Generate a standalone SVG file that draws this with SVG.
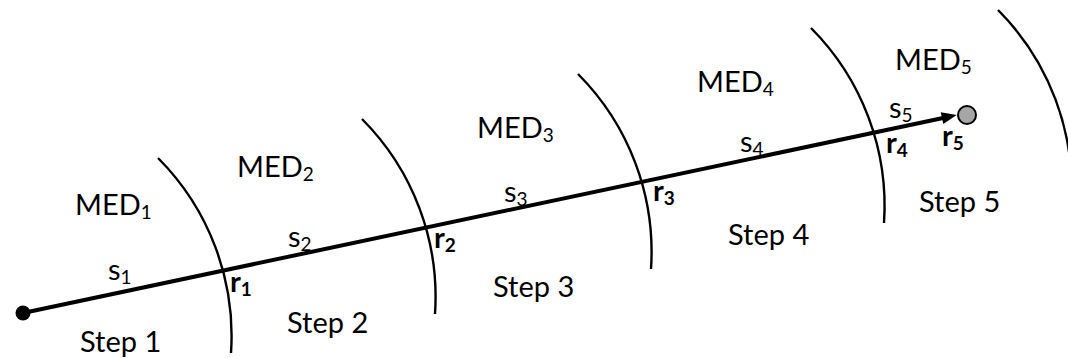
<svg xmlns="http://www.w3.org/2000/svg" width="1068" height="358" viewBox="0 0 1068 358">
  <style>
    .lbl { font-family: Lato, "Open Sans", "Liberation Sans", sans-serif; font-size: 29px; fill: #000; }
    .b { font-weight: bold; }
    .sub { font-size: 19px; }
    .arc { fill: none; stroke: #000; stroke-width: 2.4; }
  </style>
  <defs>
    <path id="arcShape" d="M158,158 A252,252 0 0 1 231,353"/>
    <marker id="arrow" markerUnits="userSpaceOnUse" markerWidth="16" markerHeight="12" refX="1" refY="6" orient="auto" overflow="visible">
      <path d="M0,0 L15,6 L0,12 Z" fill="#000"/>
    </marker>
  </defs>
  <rect width="1068" height="358" fill="#fff"/>
  <g id="boundaries">
    <use id="arc1" href="#arcShape" class="arc"/>
    <use id="arc2" href="#arcShape" class="arc" transform="translate(204,-39)"/>
    <use id="arc3" href="#arcShape" class="arc" transform="translate(420,-84)"/>
    <use id="arc4" href="#arcShape" class="arc" transform="translate(653,-130)"/>
    <use id="arc5" href="#arcShape" class="arc" transform="translate(840,-148)"/>
  </g>
  <g id="connectors">
    <line x1="23" y1="313" x2="943" y2="118" stroke="#000" stroke-width="4" marker-end="url(#arrow)"/>
  </g>
  <g id="start">
    <circle cx="23" cy="313" r="7.5" fill="#000"/>
  </g>
  <g id="end">
    <circle cx="967" cy="115" r="9" fill="#a6a6a6" stroke="#000" stroke-width="2"/>
  </g>
  <g id="media">
    <text class="lbl" x="75" y="215">MED<tspan class="sub" dy="4">1</tspan></text>
    <text class="lbl" x="237" y="177">MED<tspan class="sub" dy="4">2</tspan></text>
    <text class="lbl" x="477" y="138">MED<tspan class="sub" dy="4">3</tspan></text>
    <text class="lbl" x="697" y="92">MED<tspan class="sub" dy="4">4</tspan></text>
    <text class="lbl" x="895" y="70">MED<tspan class="sub" dy="4">5</tspan></text>
  </g>
  <g id="segments">
    <text class="lbl" x="108" y="280">s<tspan class="sub" dy="4">1</tspan></text>
    <text class="lbl" x="288" y="247">s<tspan class="sub" dy="4">2</tspan></text>
    <text class="lbl" x="504" y="202">s<tspan class="sub" dy="4">3</tspan></text>
    <text class="lbl" x="740" y="152">s<tspan class="sub" dy="4">4</tspan></text>
    <text class="lbl" x="889" y="118">s<tspan class="sub" dy="4">5</tspan></text>
  </g>
  <g id="points">
    <text class="lbl b" x="230" y="292">r<tspan class="sub" dy="4">1</tspan></text>
    <text class="lbl b" x="434" y="248">r<tspan class="sub" dy="4">2</tspan></text>
    <text class="lbl b" x="653" y="201">r<tspan class="sub" dy="4">3</tspan></text>
    <text class="lbl b" x="886" y="153">r<tspan class="sub" dy="4">4</tspan></text>
    <text class="lbl b" x="942" y="146">r<tspan class="sub" dy="4">5</tspan></text>
  </g>
  <g id="steps">
    <text class="lbl" x="80" y="352">Step 1</text>
    <text class="lbl" x="287" y="333">Step 2</text>
    <text class="lbl" x="493" y="297">Step 3</text>
    <text class="lbl" x="728" y="245">Step 4</text>
    <text class="lbl" x="919" y="212">Step 5</text>
  </g>
</svg>
